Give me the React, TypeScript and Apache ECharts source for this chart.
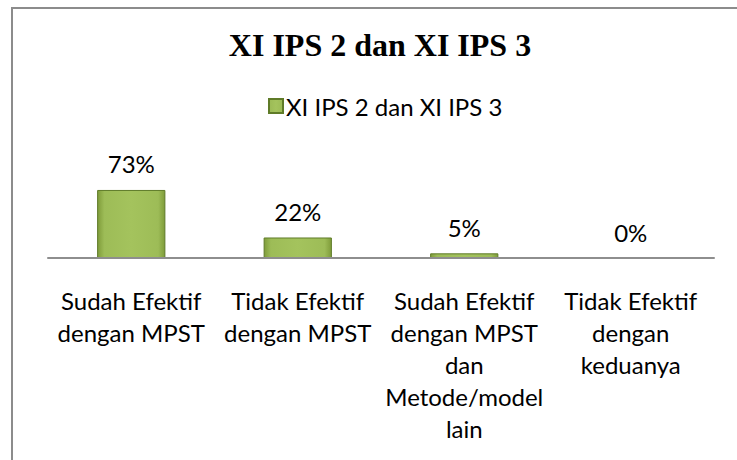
import React, { useEffect, useRef } from "react";
import * as echarts from "echarts";

const chartTitle = "XI IPS 2 dan XI IPS 3";
const seriesName = "XI IPS 2 dan XI IPS 3";
const categories = [
  "Sudah Efektif\ndengan MPST",
  "Tidak Efektif\ndengan MPST",
  "Sudah Efektif\ndengan MPST\ndan\nMetode/model\nlain",
  "Tidak Efektif\ndengan\nkeduanya",
];
const values = [73, 22, 5, 0];

const FONT = "Lato, 'Open Sans', sans-serif";

export default function App() {
  const ref = useRef<HTMLDivElement>(null);
  useEffect(() => {
    if (!ref.current) return;
    const chart = echarts.init(ref.current, null, { renderer: "svg" });
    const barFill = new echarts.graphic.LinearGradient(0, 0, 1, 0, [
      { offset: 0, color: "#7f9c3a" },
      { offset: 0.1, color: "#9dbc57" },
      { offset: 0.5, color: "#a4c35d" },
      { offset: 0.9, color: "#9dbc57" },
      { offset: 1, color: "#7f9c3a" },
    ]);
    chart.setOption({
      animation: false,
      backgroundColor: "#ffffff",
      title: {
        text: chartTitle,
        left: 380,
        top: 29,
        textAlign: "center",
        padding: 0,
        textStyle: {
          fontFamily: "'Liberation Serif', 'Times New Roman', serif",
          fontWeight: "bold",
          fontSize: 32,
          color: "#000",
          lineHeight: 32,
        },
      },
      legend: {
        data: [seriesName],
        left: 268,
        top: 94,
        padding: 0,
        icon: "rect",
        itemWidth: 14,
        itemHeight: 14,
        itemGap: 6,
        textStyle: { fontFamily: FONT, fontSize: 24, color: "#000", padding: [0, 0, 0, -2] },
      },
      grid: { left: 48, right: 23, top: 164.8, bottom: 202, containLabel: false },
      xAxis: {
        type: "category",
        data: categories,
        boundaryGap: true,
        z: 3,
        axisLine: { show: true, lineStyle: { color: "#8e8e8e", width: 2 } },
        axisTick: { show: false },
        axisLabel: {
          interval: 0,
          margin: 26,
          fontFamily: FONT,
          fontSize: 24,
          lineHeight: 32,
          color: "#000",
          align: "center",
        },
      },
      yAxis: {
        type: "value",
        min: 0,
        max: 100,
        show: false,
        splitLine: { show: false },
      },
      series: [
        {
          name: seriesName,
          type: "bar",
          z: 2,
          data: values.map((v) =>
            v === 0 ? { value: v, itemStyle: { borderWidth: 0, opacity: 0 } } : v
          ),
          barWidth: "41%",
          itemStyle: {
            color: barFill,
            borderColor: "#5f7b28",
            borderWidth: 1,
          },
          label: {
            show: true,
            position: "top",
            distance: 14,
            formatter: "{c}%",
            fontFamily: FONT,
            fontSize: 24,
            lineHeight: 24,
            color: "#000",
            opacity: 1,
          },
        },
      ],
      graphic: [
        {
          type: "rect",
          shape: { x: 12, y: 8, width: 760, height: 480 },
          style: { fill: "none", stroke: "#8c8c8c", lineWidth: 2 },
          silent: true,
          z: 100,
        },
      ],
    });
    return () => chart.dispose();
  }, []);
  return (
    <div
      ref={ref}
      style={{ position: "fixed", left: 0, top: 0, width: 737, height: 460 }}
    />
  );
}
